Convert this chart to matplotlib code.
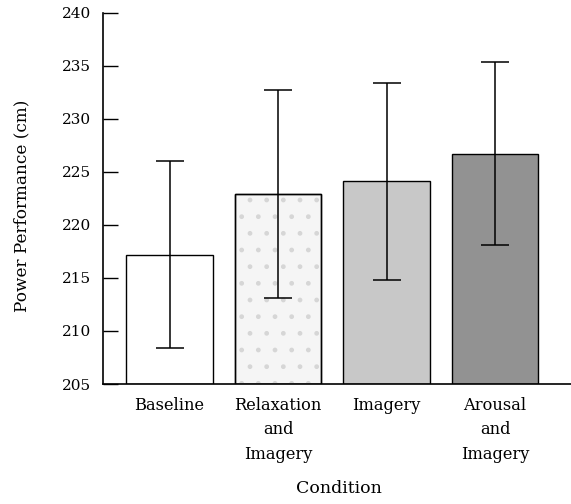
import matplotlib.pyplot as plt

# data
conditions = ["Baseline", "Relaxation\nand\nImagery", "Imagery", "Arousal\nand\nImagery"]
means = [217.2, 222.9, 224.1, 226.7]
errors = [8.8, 9.8, 9.3, 8.6]
fills = ["white", "#f5f5f5", "#c8c8c8", "#929292"]

plt.rcParams["font.family"] = ["DejaVu Serif"]

fig = plt.figure(figsize=(5.71, 5.04), dpi=100)
ax = fig.add_axes([0.181, 0.238, 0.819, 0.737])

xs = list(range(len(conditions)))
ax.bar(xs, [m - 205 for m in means], bottom=205, width=0.8, color=fills,
       edgecolor="black", linewidth=1.0, zorder=2)
# sparse stipple on the relaxation bar
ax.bar(xs[1], means[1] - 205, bottom=205, width=0.8, color="none",
       edgecolor="#d6d6d6", hatch=".", linewidth=0, zorder=2)
ax.bar(xs[1], means[1] - 205, bottom=205, width=0.8, color="none",
       edgecolor="black", linewidth=1.0, zorder=2)
ax.errorbar(xs, means, yerr=errors, fmt="none", ecolor="black",
            elinewidth=1.1, capsize=9.8, capthick=1.1, zorder=3)

ax.set_ylim(205, 240)
ax.set_xlim(-0.61, 3.70)
ax.set_yticks(range(205, 241, 5))
ax.set_xticks(xs)
ax.set_xticklabels(conditions, linespacing=1.6)
ax.tick_params(axis="y", direction="in", length=11, width=1.0, pad=9, labelsize=11)
ax.tick_params(axis="x", length=0, pad=9, labelsize=11.7)

ax.spines["top"].set_visible(False)
ax.spines["right"].set_visible(False)
ax.spines["left"].set_linewidth(1.2)
ax.spines["bottom"].set_linewidth(1.2)

ax.set_ylabel("Power Performance (cm)", fontsize=12.2)
ax.yaxis.set_label_coords(-0.156, 0.48)
ax.set_xlabel("Condition", fontsize=12.5)
ax.xaxis.set_label_coords(0.504, -0.258)

fig.savefig("out.png", dpi=100)
